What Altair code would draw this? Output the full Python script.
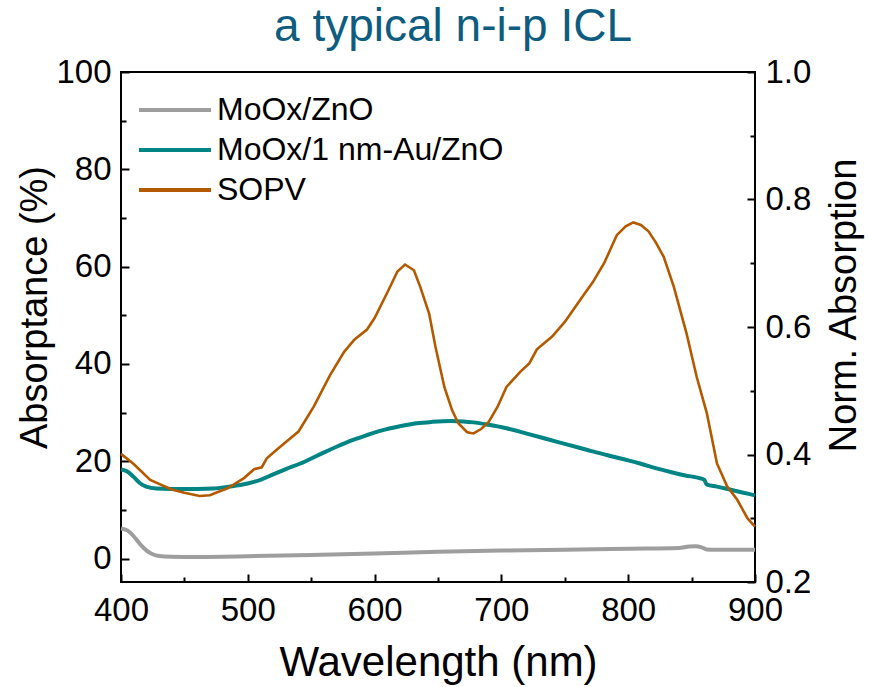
import altair as alt
import pandas as pd

# ---------------- data ----------------
gray_wl = [400, 405, 410, 415, 420, 425, 430, 440, 460, 480, 500, 550, 600, 650,
           700, 750, 800, 840, 848, 853, 858, 862, 870, 900]
gray_val = [6.2, 5.8, 4.6, 3.0, 1.7, 0.9, 0.55, 0.4, 0.35, 0.4, 0.5, 0.75, 1.05, 1.4,
            1.65, 1.85, 2.05, 2.2, 2.5, 2.55, 2.3, 1.9, 1.85, 1.85]

teal_wl = [400, 405, 410, 415, 420, 428, 440, 460, 473, 485, 499, 510, 520, 530, 541,
           555, 570, 583, 594, 605, 620, 633, 645, 660, 670, 678, 690, 704, 720, 730,
           744, 760, 771, 783, 800, 810, 823, 835, 845, 857, 860, 862, 870, 880, 890, 900]
teal_val = [18.3, 17.9, 16.8, 15.5, 14.8, 14.4, 14.3, 14.3, 14.4, 14.8, 15.4, 16.2, 17.3,
            18.4, 19.5, 21.2, 23.0, 24.4, 25.4, 26.3, 27.2, 27.8, 28.1, 28.3, 28.2, 28.0,
            27.5, 26.8, 25.7, 25.0, 24.0, 22.9, 22.1, 21.3, 20.2, 19.5, 18.5, 17.7, 17.1,
            16.5, 16.2, 15.2, 14.8, 14.2, 13.6, 13.0]

sopv_wl = [400, 410, 423, 440, 450, 462, 470, 484, 497, 505, 511, 515, 523, 531, 540,
           552, 565, 576, 584, 594, 600, 611, 618, 624, 631, 636, 643, 648, 655, 661,
           666, 673, 678, 684, 690, 697, 704, 715, 722, 728, 740, 750, 764, 772, 781,
           791, 798, 804, 810, 816, 822, 828, 836, 846, 854, 862, 870, 878, 886, 894, 900]
sopv_val = [0.401, 0.385, 0.360, 0.345, 0.340, 0.335, 0.336, 0.347, 0.363, 0.377, 0.380,
            0.394, 0.408, 0.421, 0.436, 0.475, 0.525, 0.561, 0.580, 0.596, 0.614, 0.658,
            0.687, 0.698, 0.689, 0.663, 0.621, 0.569, 0.506, 0.470, 0.449, 0.435, 0.433,
            0.440, 0.451, 0.475, 0.506, 0.530, 0.543, 0.565, 0.585, 0.608, 0.648, 0.670,
            0.700, 0.744, 0.758, 0.764, 0.760, 0.750, 0.732, 0.710, 0.663, 0.590, 0.522,
            0.465, 0.386, 0.350, 0.329, 0.300, 0.287]

series_names = ["MoOx/ZnO", "MoOx/1 nm-Au/ZnO", "SOPV"]
series_colors = ["#9e9e9e", "#008484", "#b35a00"]

x_major = [400, 500, 600, 700, 800, 900]
x_minor = [450, 550, 650, 750, 850]
yl_major = [0, 20, 40, 60, 80, 100]
yl_minor = [10, 30, 50, 70, 90]
yr_major = [0.2, 0.4, 0.6, 0.8, 1.0]
yr_minor = [0.3, 0.5, 0.7, 0.9]

# ---------------- tables ----------------
left_df = pd.concat([
    pd.DataFrame({"wl": gray_wl, "val": gray_val, "series": series_names[0]}),
    pd.DataFrame({"wl": teal_wl, "val": teal_val, "series": series_names[1]}),
], ignore_index=True)
right_df = pd.DataFrame({"wl": sopv_wl, "val": sopv_val, "series": series_names[2]})

FONT = "Liberation Sans, Arial, sans-serif"
W, H = 634, 510

xscale = alt.Scale(domain=[400, 900], nice=False, zero=False)
ylscale = alt.Scale(domain=[-4.8, 100], nice=False, zero=False)
yrscale = alt.Scale(domain=[0.2, 1.0], nice=False, zero=False)

color = alt.Color(
    "series:N",
    scale=alt.Scale(domain=series_names, range=series_colors),
    sort=series_names,
    legend=alt.Legend(
        title=None, orient="none", legendX=34, legendY=18, padding=0,
        symbolType="M-2,0L2,0", symbolSize=1296, symbolStrokeWidth=4,
        symbolFillColor="transparent",
        labelFont=FONT, labelFontSize=32, labelColor="black", labelOffset=22,
        labelLimit=500, rowPadding=4,
    ),
)

common_axis = dict(domain=False, labelFont=FONT, labelColor="black", titleFont=FONT,
                   titleColor="black", titleFontWeight="normal", tickColor="black",
                   tickWidth=2, labelOverlap=False, labelFlush=False, grid=False)


def tick_axis(orient, values, size):
    return alt.Axis(orient=orient, values=values, offset=-size, tickSize=size,
                    labels=False, title=None, **common_axis)


# left labelled layer (data lines)
l1 = alt.Chart(left_df).mark_line(strokeWidth=4, interpolate="monotone").encode(
    x=alt.X("wl:Q", scale=xscale, axis=alt.Axis(
        orient="bottom", values=x_major, tickSize=0, labelPadding=12, labelFontSize=33,
        title="Wavelength (nm)", titleFontSize=42, titleY=93, titleBaseline="alphabetic",
        **common_axis)),
    y=alt.Y("val:Q", scale=ylscale, axis=alt.Axis(
        orient="left", values=yl_major, tickSize=0, labelPadding=10, labelFontSize=33,
        title="Absorptance (%)", titleFontSize=38, titleAngle=270, titleX=-75, titleY=235,
        titleAlign="center", titleBaseline="alphabetic", **common_axis)),
    color=color,
    detail="series:N",
)

l2 = alt.Chart(left_df).mark_line(opacity=0).encode(
    x=alt.X("wl:Q", scale=xscale, axis=tick_axis("bottom", x_major, 8)),
    y=alt.Y("val:Q", scale=ylscale, axis=tick_axis("left", yl_major, 8)),
    detail="series:N",
)
l3 = alt.Chart(left_df).mark_line(opacity=0).encode(
    x=alt.X("wl:Q", scale=xscale, axis=tick_axis("bottom", x_minor, 5)),
    y=alt.Y("val:Q", scale=ylscale, axis=tick_axis("left", yl_minor, 5)),
    detail="series:N",
)

r1 = alt.Chart(right_df).mark_line(strokeWidth=2.6).encode(
    x=alt.X("wl:Q", scale=xscale, axis=None),
    y=alt.Y("val:Q", scale=yrscale, axis=alt.Axis(
        orient="right", values=yr_major, format=".1f", tickSize=0, labelPadding=10,
        labelFontSize=33, title="Norm. Absorption", titleFontSize=38, titleAngle=270,
        titleX=100, titleY=233, titleAlign="center", titleBaseline="alphabetic",
        **common_axis)),
    color=color,
)
r2 = alt.Chart(right_df).mark_line(opacity=0).encode(
    x=alt.X("wl:Q", scale=xscale, axis=None),
    y=alt.Y("val:Q", scale=yrscale, axis=tick_axis("right", yr_major, 8)),
)
r3 = alt.Chart(right_df).mark_line(opacity=0).encode(
    x=alt.X("wl:Q", scale=xscale, axis=None),
    y=alt.Y("val:Q", scale=yrscale, axis=tick_axis("right", yr_minor, 5)),
)

chart = alt.layer(l1, l2, l3, r1, r2, r3).resolve_scale(
    y="independent"
).resolve_axis(
    x="independent", y="independent"
).properties(
    width=W, height=H,
    autosize=alt.AutoSizeParams(type="none"),
    padding={"left": 121, "top": 72, "right": 114, "bottom": 105},
    title=alt.Title("a typical n-i-p ICL", font=FONT, fontSize=46, color="#0e5d80",
                    fontWeight="normal", anchor="middle", frame="group",
                    baseline="alphabetic", offset=6, dx=15, dy=37),
).configure_view(stroke="black", strokeWidth=2)

chart.save("out.html", embed_options={"renderer": "svg", "actions": False})
